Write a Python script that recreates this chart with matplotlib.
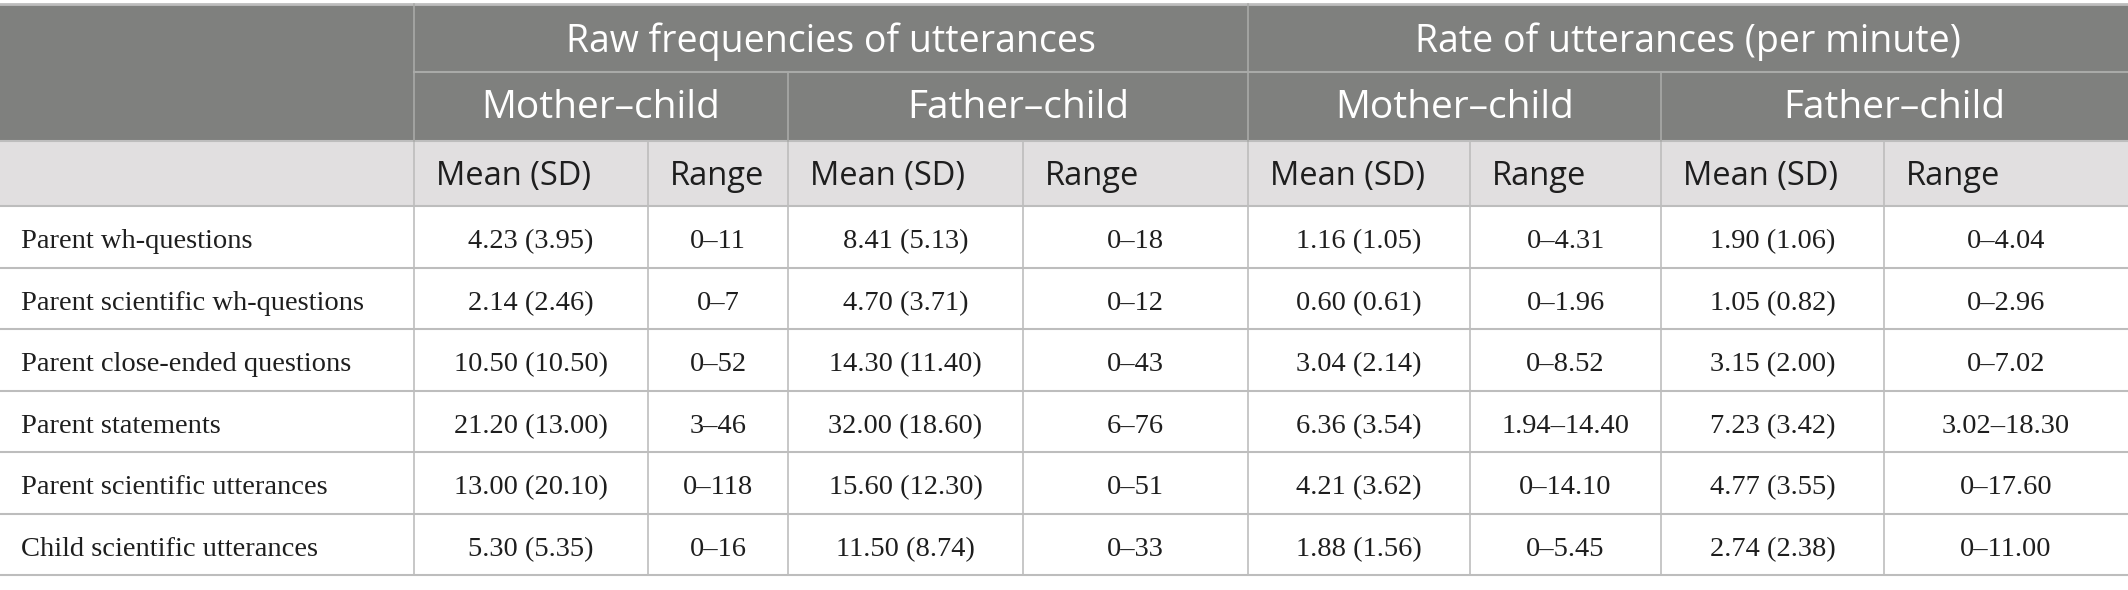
import matplotlib
matplotlib.use("Agg")
import matplotlib.pyplot as plt
from matplotlib.patches import Rectangle

# table content
row_labels = ["Parent wh-questions", "Parent scientific wh-questions",
              "Parent close-ended questions", "Parent statements",
              "Parent scientific utterances", "Child scientific utterances"]
group_labels = ["Raw frequencies of utterances", "Rate of utterances (per minute)"]
dyad_labels = ["Mother\u2013child", "Father\u2013child", "Mother\u2013child", "Father\u2013child"]
stat_labels = ["Mean (SD)", "Range"]

raw_mc_mean = [4.23, 2.14, 10.50, 21.20, 13.00, 5.30]
raw_mc_sd = [3.95, 2.46, 10.50, 13.00, 20.10, 5.35]
raw_mc_range = [(0, 11), (0, 7), (0, 52), (3, 46), (0, 118), (0, 16)]
raw_fc_mean = [8.41, 4.70, 14.30, 32.00, 15.60, 11.50]
raw_fc_sd = [5.13, 3.71, 11.40, 18.60, 12.30, 8.74]
raw_fc_range = [(0, 18), (0, 12), (0, 43), (6, 76), (0, 51), (0, 33)]
rate_mc_mean = [1.16, 0.60, 3.04, 6.36, 4.21, 1.88]
rate_mc_sd = [1.05, 0.61, 2.14, 3.54, 3.62, 1.56]
rate_mc_range = [(0, 4.31), (0, 1.96), (0, 8.52), (1.94, 14.40), (0, 14.10), (0, 5.45)]
rate_fc_mean = [1.90, 1.05, 3.15, 7.23, 4.77, 2.74]
rate_fc_sd = [1.06, 0.82, 2.00, 3.42, 3.55, 2.38]
rate_fc_range = [(0, 4.04), (0, 2.96), (0, 7.02), (3.02, 18.30), (0, 17.60), (0, 11.00)]


def fmt_mean(m, s):
    return f"{m:.2f} ({s:.2f})"


def fmt_range(r, is_int):
    lo, hi = r
    if is_int:
        return f"{lo}\u2013{hi}"
    lo_s = "0" if lo == 0 else f"{lo:.2f}"
    return f"{lo_s}\u2013{hi:.2f}"


columns = [
    [fmt_mean(m, s) for m, s in zip(raw_mc_mean, raw_mc_sd)],
    [fmt_range(r, True) for r in raw_mc_range],
    [fmt_mean(m, s) for m, s in zip(raw_fc_mean, raw_fc_sd)],
    [fmt_range(r, True) for r in raw_fc_range],
    [fmt_mean(m, s) for m, s in zip(rate_mc_mean, rate_mc_sd)],
    [fmt_range(r, False) for r in rate_mc_range],
    [fmt_mean(m, s) for m, s in zip(rate_fc_mean, rate_fc_sd)],
    [fmt_range(r, False) for r in rate_fc_range],
]

# layout (pixels)
W, H = 2128, 590
col_x = [0, 414, 648, 788, 1023, 1248, 1470, 1661, 1884, 2128]
y_top, y_h1, y_h2, y_h3 = 4, 72, 141, 206
row_h = 61.5

dark = "#7f807e"
light = "#e1dfe0"
grid = "#bdbdbd"
hgrid = "#a9aaa8"
txt = "#1e1e1e"
sans = "Open Sans"
serif = "Liberation Serif"

fig = plt.figure(figsize=(W / 100, H / 100), dpi=100)
ax = fig.add_axes([0, 0, 1, 1])
ax.set_xlim(0, W)
ax.set_ylim(H, 0)
ax.axis("off")

# backgrounds
ax.add_patch(Rectangle((0, y_top), W, y_h2 - y_top, color=dark, lw=0))
ax.add_patch(Rectangle((0, y_h2), W, y_h3 - y_h2, color=light, lw=0))

# header row 1
for i, lab in enumerate(group_labels):
    x0, x1 = col_x[1 + 4 * i], col_x[5 + 4 * i]
    ax.text((x0 + x1) / 2, (y_top + y_h1) / 2 + 4, lab, ha="center", va="center",
            color="white", fontsize=27, family=sans)
# header row 2
for i, lab in enumerate(dyad_labels):
    x0, x1 = col_x[1 + 2 * i], col_x[3 + 2 * i]
    ax.text((x0 + x1) / 2, (y_h1 + y_h2) / 2 + 2, lab, ha="center", va="center",
            color="white", fontsize=28, family=sans)
# header row 3
for c in range(8):
    ax.text(col_x[c + 1] + 22, (y_h2 + y_h3) / 2 + 3, stat_labels[c % 2], ha="left",
            va="center", color=txt, fontsize=23.5, family=sans)

# data rows
for r, lab in enumerate(row_labels):
    yc = y_h3 + row_h * (r + 0.5) + 2
    ax.text(21, yc, lab, ha="left", va="center_baseline", color=txt, fontsize=20.5,
            family=serif)
    for c in range(8):
        ax.text((col_x[c + 1] + col_x[c + 2]) / 2, yc, columns[c][r], ha="center",
                va="center_baseline", color=txt, fontsize=20.5, family=serif)

# grid lines
ax.plot([0, W], [y_top, y_top], color=grid, lw=2)
ax.plot([col_x[1], W], [y_h1, y_h1], color=hgrid, lw=1.5)
ax.plot([0, W], [y_h2, y_h2], color=grid, lw=1.5)
for r in range(7):
    y = y_h3 + row_h * r
    ax.plot([0, W], [y, y], color=grid, lw=1.5)
y_bot = y_h3 + row_h * 6
for x in col_x[1:-1]:
    ax.plot([x, x], [y_h2, y_bot], color=grid, lw=1.2)
for x in [col_x[1], col_x[3], col_x[5], col_x[7]]:
    ax.plot([x, x], [y_h1, y_h2], color=hgrid, lw=1.2)
for x in [col_x[1], col_x[5]]:
    ax.plot([x, x], [y_top, y_h1], color=hgrid, lw=1.2)

fig.savefig("out.png", dpi=100)
